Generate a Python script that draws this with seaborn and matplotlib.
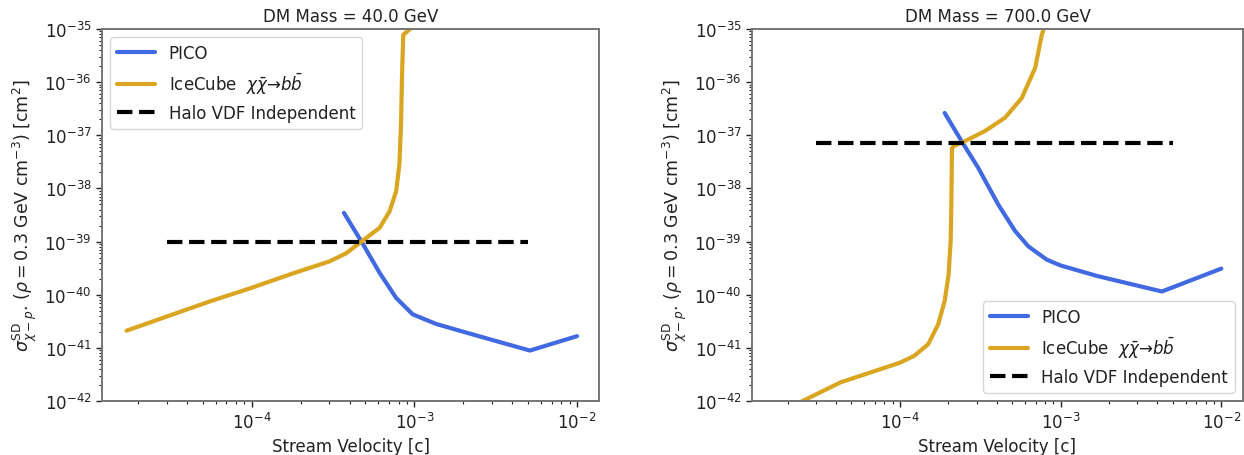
import numpy as np
import pandas as pd
import matplotlib
matplotlib.use("Agg")
import matplotlib.pyplot as plt
import seaborn as sns

# ---------------- data ----------------
titles = ["DM Mass = 40.0 GeV", "DM Mass = 700.0 GeV"]

# 40 GeV panel
pico40_v = [3.69e-4, 4.73e-4, 6.12e-4, 7.73e-4, 9.77e-4, 1.36e-3, 1.86e-3, 3.16e-3, 5.13e-3, 1.0e-2]
pico40_s = [3.47e-39, 1.0e-39, 2.57e-40, 8.7e-41, 4.27e-41, 2.82e-41, 2.14e-41, 1.35e-41, 8.9e-42, 1.66e-41]

ice40_v = [1.70e-5, 3.16e-5, 5.62e-5, 1.0e-4, 1.78e-4, 3.03e-4, 3.80e-4, 4.73e-4, 6.12e-4,
           7.05e-4, 7.73e-4, 8.09e-4, 8.28e-4, 8.40e-4, 8.55e-4, 9.33e-4, 1.05e-3]
ice40_s = [2.1e-41, 4.1e-41, 7.6e-41, 1.35e-40, 2.5e-40, 4.27e-40, 6.0e-40, 1.0e-39, 1.82e-39,
           3.72e-39, 8.9e-39, 2.82e-38, 1.58e-37, 1.38e-36, 7.8e-36, 9.8e-36, 1.26e-35]

halo40_v = [3.0e-5, 5.0e-3]
halo40_s = [1.0e-39, 1.0e-39]

# 700 GeV panel
pico700_v = [1.90e-4, 2.42e-4, 3.07e-4, 4.09e-4, 5.21e-4, 6.31e-4, 8.2e-4, 1.0e-3, 1.70e-3, 4.27e-3, 1.0e-2]
pico700_s = [2.63e-37, 7.76e-38, 2.45e-38, 5.0e-39, 1.58e-39, 8.1e-40, 4.57e-40, 3.55e-40, 2.24e-40,
             1.15e-40, 3.1e-40]

ice700_v = [2.40e-5, 4.27e-5, 1.0e-4, 1.23e-4, 1.50e-4, 1.73e-4, 1.90e-4, 2.01e-4, 2.07e-4, 2.09e-4,
            2.11e-4, 2.20e-4, 2.54e-4, 3.38e-4, 4.51e-4, 5.73e-4, 6.95e-4, 7.64e-4, 8.13e-4]
ice700_s = [9.5e-43, 2.24e-42, 5.25e-42, 7.1e-42, 1.17e-41, 2.75e-41, 7.6e-41, 2.4e-40, 1.02e-39, 4.37e-39,
            5.75e-38, 6.46e-38, 7.76e-38, 1.20e-37, 2.14e-37, 5.0e-37, 1.86e-36, 7.76e-36, 1.41e-35]

halo700_v = [3.0e-5, 5.0e-3]
halo700_s = [7.2e-38, 7.2e-38]

labels = ["PICO", r"IceCube  $\chi\bar{\chi}$→$b\bar{b}$", "Halo VDF Independent"]
colors = ["#4169E1", "#DAA520", "black"]
legend_locs = ["upper left", "lower right"]

x_ticks = [1e-4, 1e-3, 1e-2]
y_ticks = [1e-42, 1e-41, 1e-40, 1e-39, 1e-38, 1e-37, 1e-36, 1e-35]

panels = [
    [(pico40_v, pico40_s), (ice40_v, ice40_s), (halo40_v, halo40_s)],
    [(pico700_v, pico700_s), (ice700_v, ice700_s), (halo700_v, halo700_s)],
]

# ---------------- figure ----------------
sns.set_theme(style="ticks")
plt.rcParams["font.family"] = ["DejaVu Sans"]
plt.rcParams.update({
    "axes.edgecolor": "#757575",
    "axes.linewidth": 1.4,
    "xtick.color": "#222222",
    "ytick.color": "#222222",
    "xtick.labelcolor": "#222222",
    "ytick.labelcolor": "#222222",
    "axes.labelcolor": "#222222",
    "text.color": "#222222",
})

fig = plt.figure(figsize=(12.44, 4.56), dpi=100)
rects = [[102 / 1244, 54 / 456, 497 / 1244, 372 / 456],
         [752 / 1244, 54 / 456, 491 / 1244, 372 / 456]]

for i, series in enumerate(panels):
    ax = fig.add_axes(rects[i])
    for j, (v, s) in enumerate(series):
        df = pd.DataFrame({"v": v, "s": s})
        sns.lineplot(data=df, x="v", y="s", ax=ax, color=colors[j], lw=3,
                     linestyle="--" if j == 2 else "-", label=labels[j],
                     sort=False, estimator=None)
    ax.set_xscale("log")
    ax.set_yscale("log")
    ax.set_xlim(10 ** -4.92, 10 ** -1.865)
    ax.set_ylim(y_ticks[0], y_ticks[-1])
    ax.set_xticks(x_ticks)
    ax.set_yticks(y_ticks)
    ax.xaxis.set_minor_locator(matplotlib.ticker.LogLocator(base=10, subs=np.arange(2, 10), numticks=100))
    ax.yaxis.set_minor_locator(matplotlib.ticker.LogLocator(base=10, subs=np.arange(2, 10), numticks=100))
    ax.xaxis.set_minor_formatter(matplotlib.ticker.NullFormatter())
    ax.yaxis.set_minor_formatter(matplotlib.ticker.NullFormatter())
    ax.tick_params(axis="both", which="major", labelsize=12, length=4, width=1)
    ax.tick_params(axis="both", which="minor", length=2, width=0.8)
    ax.set_title(titles[i], fontsize=12, pad=6)
    ax.set_xlabel("Stream Velocity [c]", fontsize=12, labelpad=4)
    ax.set_ylabel(r"$\sigma^{\rm SD}_{\chi-p}$. ($\rho = 0.3$ GeV cm$^{-3}$) [cm$^2$]", fontsize=12.5)
    ax.legend(loc=legend_locs[i], fontsize=12, handlelength=2.3, framealpha=0.8,
              borderaxespad=0.5)

fig.savefig("out.png", dpi=100)
